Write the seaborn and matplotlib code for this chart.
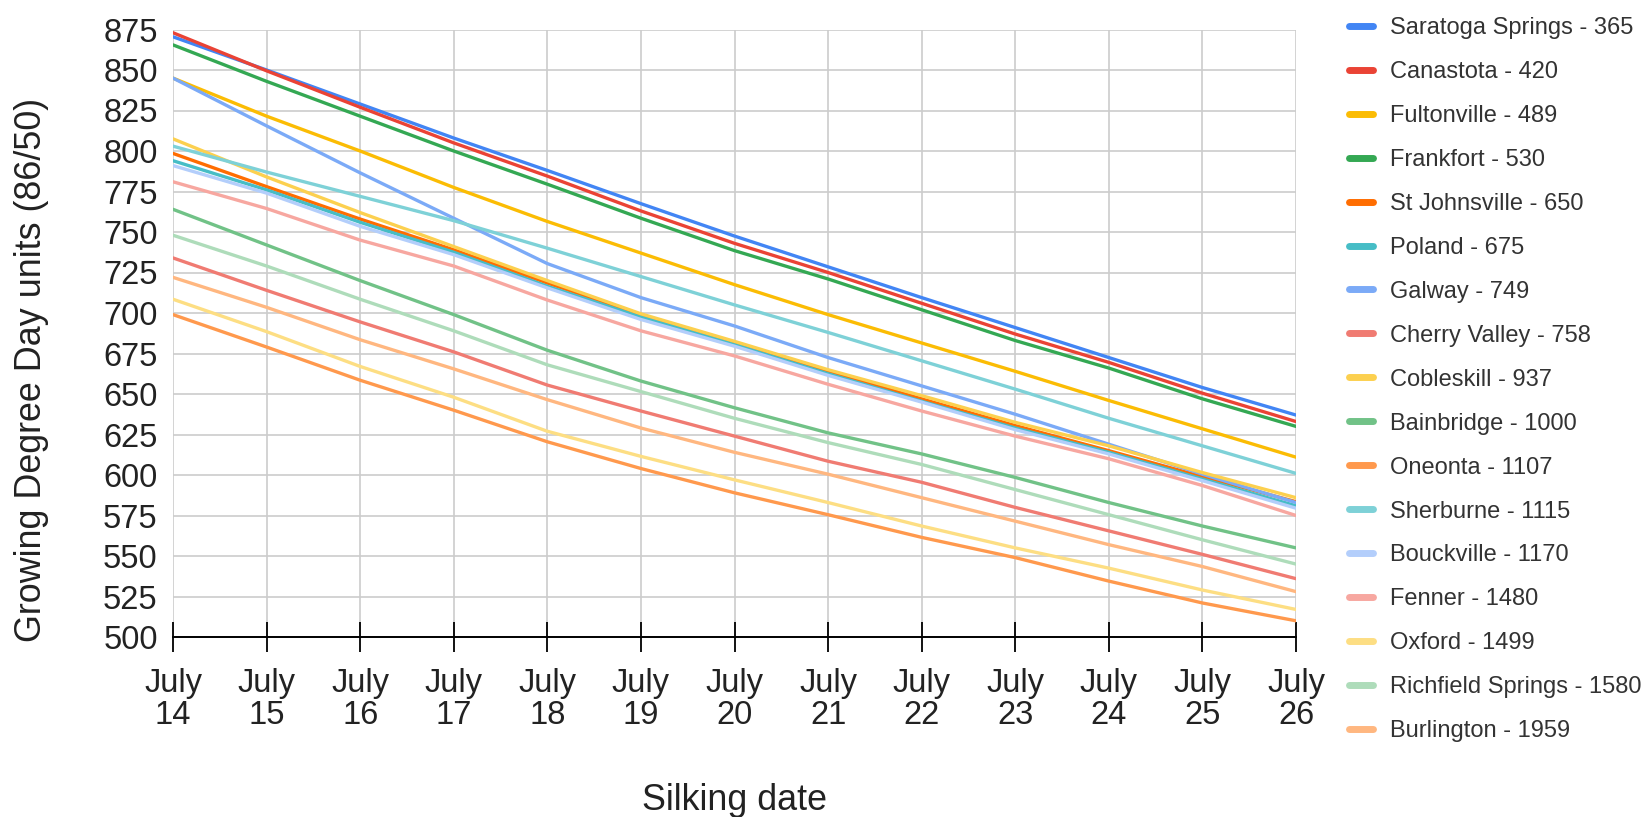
import numpy as np
import pandas as pd
import matplotlib
matplotlib.use("Agg")
import matplotlib.pyplot as plt
import seaborn as sns

# Silking dates (July)
days = [14, 15, 16, 17, 18, 19, 20, 21, 22, 23, 24, 25, 26]

# Growing degree day units (86/50) remaining
saratoga = [870.5, 850, 829, 808, 788, 767.5, 747.5, 728.5, 709.5, 691, 672.5, 654, 637]
canastota = [873, 849.5, 827, 805, 784.5, 763, 743, 725, 706, 687, 669.5, 650.5, 633]
fultonville = [845, 821.5, 800, 777.5, 756.5, 737, 717.5, 699, 681.5, 664, 646, 628.5, 611]
frankfort = [865.5, 843, 821.5, 800, 779.5, 758.5, 738.5, 721, 702, 683, 666, 647, 630]
st_johnsville = [798.5, 778, 758, 739, 718.5, 699, 681, 664, 647, 630.5, 615, 599, 583.5]
poland = [794, 776, 756, 737.5, 716.5, 697.5, 680.5, 662.5, 645.5, 629, 614, 597.5, 581]
galway = [845, 815.5, 786.5, 758.5, 730.5, 709.5, 692, 672.5, 655, 637.5, 619, 600.5, 583]
cherry_valley = [734, 714, 694.5, 676, 655.5, 639.5, 624, 608.5, 595.5, 580, 565.5, 551, 536]
cobleskill = [807.5, 784, 762, 741, 720, 699.5, 682.5, 665, 649, 632.5, 618, 601.5, 586]
bainbridge = [764, 742, 720, 699, 677, 658, 641.5, 626, 613, 598.5, 583, 568.5, 555]
oneonta = [699, 679, 658.5, 640, 620.5, 604, 589, 575.5, 561.5, 549, 534.5, 521, 510]
sherburne = [803, 787, 772, 757, 740, 722.5, 705, 688, 670.5, 653, 635, 618, 601]
bouckville = [791, 774, 753.5, 736, 715.5, 696, 679.5, 661.5, 645, 628, 613, 596.5, 579.5]
fenner = [781, 764.5, 745, 729, 708, 689, 673.5, 656, 639.5, 624, 610, 593.5, 575]
oxford = [708.5, 688.5, 667, 648, 627, 611.5, 597, 583, 568.5, 555, 542.5, 529, 517]
richfield = [748, 729, 708.5, 689, 668, 651.5, 635, 620, 606.5, 591, 575.5, 560, 545]
burlington = [722, 703.5, 683.5, 665.5, 646.5, 629, 614, 600.5, 586, 571.5, 557, 543.5, 528]

series_names = [
    "Saratoga Springs - 365", "Canastota - 420", "Fultonville - 489",
    "Frankfort - 530", "St Johnsville - 650", "Poland - 675",
    "Galway - 749", "Cherry Valley - 758", "Cobleskill - 937",
    "Bainbridge - 1000", "Oneonta - 1107", "Sherburne - 1115",
    "Bouckville - 1170", "Fenner - 1480", "Oxford - 1499",
    "Richfield Springs - 1580", "Burlington - 1959",
]
series_values = [
    saratoga, canastota, fultonville, frankfort, st_johnsville, poland,
    galway, cherry_valley, cobleskill, bainbridge, oneonta, sherburne,
    bouckville, fenner, oxford, richfield, burlington,
]
colors = [
    "#4285F4", "#EA4335", "#FBBC04", "#34A853", "#FF6D01", "#46BDC6",
    "#7BAAF7", "#F07B72", "#FCD04F", "#71C287", "#FF994D", "#7ED1D7",
    "#B3CEFB", "#F7A7A0", "#FDDE83", "#AEDCBA", "#FFB780",
]

y_ticks = list(range(500, 876, 25))

df = pd.DataFrame(
    [(name, d, v) for name, vals in zip(series_names, series_values)
     for d, v in zip(days, vals)],
    columns=["site", "day", "gdd"],
)

sns.set_theme(style="white")
plt.rcParams["font.family"] = ["Liberation Sans", "DejaVu Sans"]

fig = plt.figure(figsize=(16.46, 8.17), dpi=100)
ax = fig.add_axes([173 / 1646, 1 - 637 / 817, (1296 - 173) / 1646, (637 - 29.5) / 817])

sns.lineplot(
    data=df, x="day", y="gdd", hue="site", hue_order=series_names,
    palette=colors, linewidth=2.4, ax=ax, legend=True,
)

ax.set_xlim(days[0], days[-1])
ax.set_ylim(500, 875)
ax.set_xticks(days)
ax.set_xticklabels([f"July\n{d}" for d in days], linespacing=1.05)
ax.set_yticks(y_ticks)
ax.set_yticklabels([str(t) for t in y_ticks])
ax.grid(True, color="#cccccc", linewidth=1.2)
ax.set_axisbelow(True)

for side in ["top", "right", "left"]:
    ax.spines[side].set_visible(False)
ax.spines["bottom"].set_color("#000000")
ax.spines["bottom"].set_linewidth(1.4)
ax.spines["bottom"].set_zorder(5)

ax.tick_params(axis="x", bottom=True, direction="inout", length=22, width=1.3,
               color="#000000", labelsize=23.5, labelcolor="#222222", pad=11)
ax.tick_params(axis="y", left=False, length=0, labelsize=23.5,
               labelcolor="#222222", pad=11)
ax.set_xlabel("")
ax.set_ylabel("")

fig.text(735 / 1646, 1 - 800 / 817, "Silking date", ha="center", va="center",
         fontsize=25.8, color="#222222")
fig.text(32 / 1646, 1 - 370 / 817, "Growing Degree Day units (86/50)",
         ha="center", va="center", rotation=90, fontsize=25.8, color="#222222")

handles, labels = ax.get_legend_handles_labels()
leg = ax.legend(
    handles, labels, loc="upper left",
    bbox_to_anchor=(1349 / 1646, 1 - 17 / 817), bbox_transform=fig.transFigure,
    frameon=False, fontsize=17, handlelength=1.0, handletextpad=0.72,
    labelspacing=0.93, borderpad=0, borderaxespad=0,
)
for h in leg.get_lines():
    h.set_linewidth(5)
for t in leg.get_texts():
    t.set_color("#333333")

fig.savefig("out.png", dpi=100)
